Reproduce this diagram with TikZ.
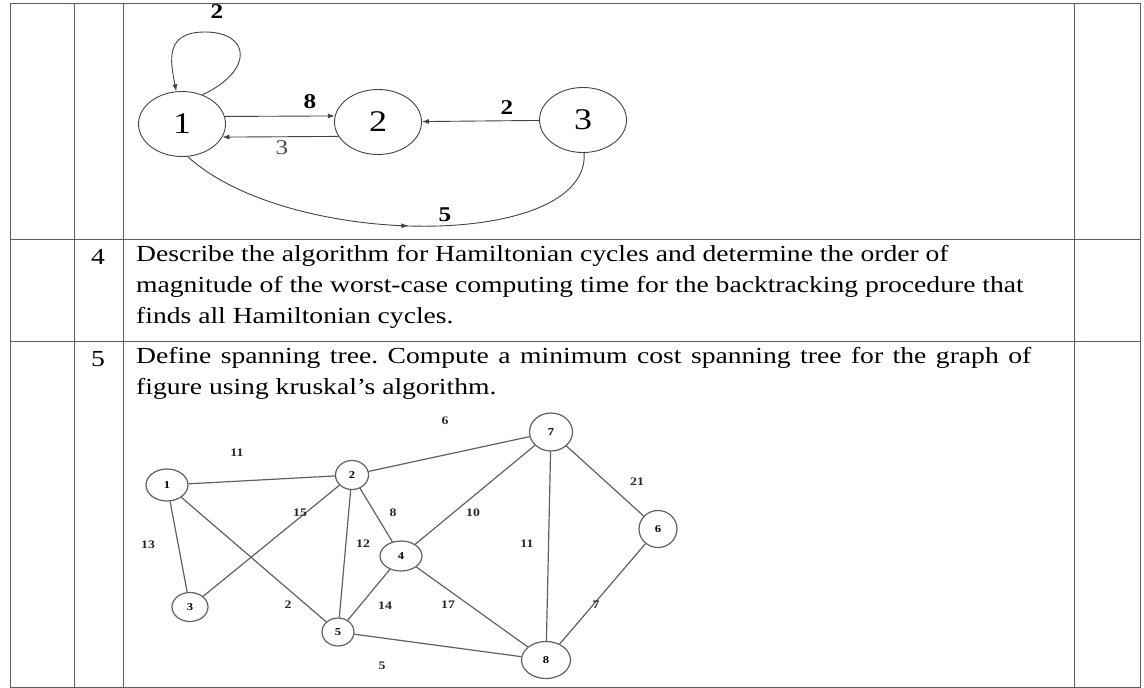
\documentclass[tikz,border=0pt]{standalone}
\usepackage{fontspec}
\setmainfont{Liberation Serif}[FakeStretch=1.2]
\usepackage{tikz}
\usetikzlibrary{arrows.meta,positioning,shapes.geometric,decorations.markings}
\definecolor{rulegray}{HTML}{5A5E66}
\definecolor{edgegray}{HTML}{3F4248}
\definecolor{lightedge}{HTML}{5E6064}
\frenchspacing

\begin{document}
\begin{tikzpicture}[x=1pt, y=-1pt,
  rule/.style={draw=rulegray, line width=1pt},
  bigv/.style={draw=edgegray, ellipse, line width=0.9pt, minimum width=87pt, minimum height=65pt, inner sep=0pt, font=\fontsize{30}{30}\selectfont},
  smallv/.style={draw=lightedge, ellipse, line width=1.2pt, inner sep=0pt, font=\fontsize{10.5}{10.5}\selectfont\bfseries},
  wt/.style={font=\fontsize{21}{21}\selectfont\bfseries, inner sep=0pt},
  swt/.style={font=\fontsize{11.5}{11.5}\selectfont\bfseries, inner sep=0pt, text=black!85},
  qnum/.style={font=\fontsize{23}{23}\selectfont, inner sep=0pt},
  qtext/.style={anchor=north west, align=left, inner sep=0pt, font=\fontsize{23}{31}\selectfont},
  arr/.style={-{Latex[length=7pt,width=5pt]}, edgegray, line width=0.9pt},
  ln/.style={lightedge, line width=1.2pt}
]
  \useasboundingbox (0,0) rectangle (1144,688);

  \draw[rule] (10,3) rectangle (1140,687);
  \draw[rule] (10,239) -- (1140,239);
  \draw[rule] (10,341) -- (1140,341);
  \foreach \x in {74,123,1074} \draw[rule] (\x,3) -- (\x,687);

  \node[bigv] (n1) at (182,124) {1};
  \node[bigv] (n2) at (378,122) {2};
  \node[bigv] (n3) at (583,120) {3};

  \draw[arr] (n1.10) -- (n2.172);
  \draw[arr] (n2.200) -- (n1.-18);
  \draw[arr] (n3) -- (n2);
  \draw[arr] (n1.55) .. controls (255,70) and (250,32) .. (205,32)
    .. controls (165,32) and (170,60) .. (n1.100);
  \draw[edgegray, line width=0.9pt, postaction={decorate},
    decoration={markings, mark=at position 0.53 with {\arrow{Latex[length=7pt,width=5pt]}}}]
    (n1.-80) .. controls (290,250) and (590,250) .. (n3.-88);

  \node[wt] (w12) at (310,102) {8};
  \node[wt, font=\fontsize{21}{21}\selectfont, text=black!70] (w21) at (282,148) {3};
  \node[wt] (w32) at (507,108) {2};
  \node[wt] (w11) at (217,12) {2};
  \node[wt] (w13) at (445,215) {5};

  \node[qnum] (q4) at (98,257) {4};
  \node[qtext] (t4) at (136,245) {Describe the algorithm for Hamiltonian cycles and determine the order of\\
    magnitude of the worst-case computing time for the backtracking procedure that\\
    finds all Hamiltonian cycles.};
  \node[qnum] (q5) at (98,359) {5};
  \node[qtext] (t5) at (136,347) {\makebox[895pt][s]{Define spanning tree. Compute a minimum cost spanning tree for the graph of}\\
    figure using kruskal’s algorithm.};

  \node[smallv, minimum width=42pt, minimum height=32pt] (v1) at (167,485) {1};
  \node[smallv, minimum width=33pt, minimum height=29pt] (v2) at (352,475) {2};
  \node[smallv, minimum width=36pt, minimum height=29pt] (v3) at (190,607) {3};
  \node[smallv, minimum width=42pt, minimum height=30pt] (v4) at (401,556) {4};
  \node[smallv, minimum width=32pt, minimum height=28pt] (v5) at (338,632) {5};
  \node[smallv, minimum width=38pt, minimum height=37pt] (v6) at (658,529) {6};
  \node[smallv, minimum width=43pt, minimum height=38pt] (v7) at (551,432) {7};
  \node[smallv, minimum width=49pt, minimum height=37pt] (v8) at (546,660) {8};

  \draw[ln] (v1) -- (v2);
  \draw[ln] (v1) -- (v3);
  \draw[ln] (v1) -- (v5);
  \draw[ln] (v3) -- (v2);
  \draw[ln] (v2) -- (v5);
  \draw[ln] (v2) -- (v4);
  \draw[ln] (v2) -- (v7);
  \draw[ln] (v4) -- (v7);
  \draw[ln] (v4) -- (v5);
  \draw[ln] (v4) -- (v8);
  \draw[ln] (v5) -- (v8);
  \draw[ln] (v7) -- (v8);
  \draw[ln] (v7) -- (v6);
  \draw[ln] (v6) -- (v8);

  \node[swt] (c12) at (237,453) {11};
  \node[swt] (c13) at (148,545) {13};
  \node[swt] (c32) at (300,513) {15};
  \node[swt] (c25) at (363,544) {12};
  \node[swt] (c24) at (393,513) {8};
  \node[swt] (c15) at (288,605) {2};
  \node[swt] (c45) at (385,606) {14};
  \node[swt] (c58) at (382,666) {5};
  \node[swt] (c27) at (445,421) {6};
  \node[swt] (c76) at (637,482) {21};
  \node[swt] (c47) at (473,513) {10};
  \node[swt] (c78) at (527,544) {11};
  \node[swt] (c48) at (448,605) {17};
  \node[swt] (c68) at (596,605) {7};
\end{tikzpicture}
\end{document}
